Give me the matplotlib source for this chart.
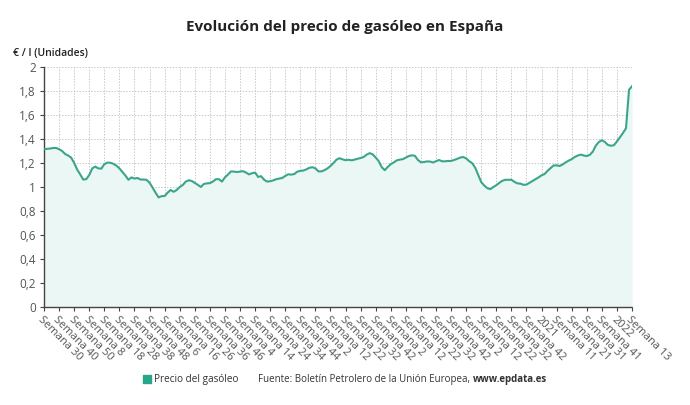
import numpy as np
import matplotlib
matplotlib.use("Agg")
import matplotlib.pyplot as plt
from matplotlib.ticker import FuncFormatter

plt.rcParams["font.family"] = ["Open Sans", "DejaVu Sans"]

# Diesel price (EUR/l), one reading every 2 weeks, week 30 of the first year to week 13 of 2022
PRICE = [
    1.315, 1.318, 1.32, 1.325, 1.325, 1.315, 1.30, 1.275, 1.262, 1.245,
    1.20, 1.145, 1.105, 1.062, 1.065, 1.10, 1.155, 1.17, 1.155, 1.153,
    1.19, 1.203, 1.202, 1.193, 1.178, 1.155, 1.125, 1.095, 1.06, 1.08,
    1.07, 1.075, 1.062, 1.062, 1.06, 1.035, 0.995, 0.952, 0.913, 0.924,
    0.924, 0.953, 0.975, 0.96, 0.975, 1.0, 1.016, 1.045, 1.056, 1.05,
    1.034, 1.018, 1.0, 1.025, 1.03, 1.032, 1.045, 1.065, 1.065, 1.045,
    1.08, 1.104, 1.13, 1.128, 1.125, 1.128, 1.132, 1.12, 1.105, 1.115,
    1.12, 1.084, 1.09, 1.06, 1.045, 1.048, 1.055, 1.065, 1.07, 1.075,
    1.092, 1.106, 1.103, 1.108, 1.128, 1.134, 1.137, 1.147, 1.16, 1.165,
    1.155, 1.13, 1.13, 1.14, 1.155, 1.175, 1.20, 1.228, 1.24, 1.23,
    1.223, 1.227, 1.222, 1.228, 1.235, 1.242, 1.25, 1.27, 1.282, 1.272,
    1.245, 1.215, 1.165, 1.14, 1.168, 1.19, 1.205, 1.222, 1.228, 1.232,
    1.245, 1.258, 1.264, 1.26, 1.225, 1.205, 1.208, 1.213, 1.212, 1.204,
    1.215, 1.225, 1.214, 1.214, 1.217, 1.217, 1.225, 1.234, 1.245, 1.25,
    1.238, 1.215, 1.198, 1.16, 1.10, 1.04, 1.012, 0.99, 0.982, 1.0,
    1.015, 1.035, 1.052, 1.06, 1.06, 1.06, 1.043, 1.03, 1.028, 1.018,
    1.02, 1.035, 1.05, 1.065, 1.08, 1.097, 1.108, 1.135, 1.158, 1.18,
    1.18, 1.175, 1.188, 1.205, 1.22, 1.232, 1.25, 1.262, 1.27, 1.262,
    1.258, 1.268, 1.295, 1.345, 1.375, 1.39, 1.375, 1.35, 1.344, 1.348,
    1.38, 1.415, 1.45, 1.49, 1.81, 1.84,
]
STEP_WEEKS = 2

# one label every 10 weeks
WEEK_LABELS = [
    "Semana 30", "Semana 40", "Semana 50", "Semana 8", "Semana 18",
    "Semana 28", "Semana 38", "Semana 48", "Semana 6", "Semana 16",
    "Semana 26", "Semana 36", "Semana 46", "Semana 4", "Semana 14",
    "Semana 24", "Semana 34", "Semana 44", "Semana 2", "Semana 12",
    "Semana 22", "Semana 32", "Semana 42", "Semana 2", "Semana 12",
    "Semana 22", "Semana 32", "Semana 42", "Semana 2", "Semana 12",
    "Semana 22", "Semana 32", "Semana 42", "2021", "Semana 11",
    "Semana 21", "Semana 31", "Semana 41", "2022", "Semana 13",
]
LABEL_EVERY = 10

LINE = "#3aa58c"
FILL = "#ebf7f4"

weeks = np.arange(len(PRICE)) * STEP_WEEKS
tick_pos = np.arange(len(WEEK_LABELS)) * LABEL_EVERY

fig = plt.figure(figsize=(6.9, 4.05), dpi=100)
ax = fig.add_axes([0.0638, 0.242, 0.8522, 0.5926])

ax.fill_between(weeks, PRICE, 0, color=FILL, lw=0, zorder=1)
ax.plot(weeks, PRICE, color=LINE, lw=1.5, zorder=3)

ax.set_xlim(0, weeks[-1])
ax.set_ylim(0, 2)
ax.set_yticks(np.arange(0, 2.01, 0.2))
ax.yaxis.set_major_formatter(FuncFormatter(lambda v, p: f"{v:.1f}".rstrip("0").rstrip(".").replace(".", ",")))
ax.set_xticks(tick_pos)
ax.set_xticklabels(WEEK_LABELS, rotation=-45, ha="left", va="top", rotation_mode="anchor")

ax.grid(True, color="#c8c8c8", ls=(0, (1.5, 1.5)), lw=0.7, zorder=0)
ax.set_axisbelow(True)
for side in ["top", "right"]:
    ax.spines[side].set_visible(False)
for side in ["left", "bottom"]:
    ax.spines[side].set_color("#444444")
    ax.spines[side].set_linestyle((0, (1, 1)))
    ax.spines[side].set_linewidth(1.0)
ax.tick_params(axis="y", length=3, width=0.8, color="#444444", labelsize=8.5, labelcolor="#555555", pad=3)
ax.tick_params(axis="x", length=3, width=0.8, color="#444444", labelsize=8, labelcolor="#555555", pad=2)

fig.text(0.5, 0.933, "Evolución del precio de gasóleo en España", ha="center", va="center",
         fontsize=11, fontweight="bold", color="#222222")
fig.text(0.019, 0.869, "€ / l (Unidades)", ha="left", va="center", fontsize=7.5,
         fontweight="semibold", color="#222222")

# legend / source line
fig.patches.append(plt.Rectangle((0.2075, 0.055), 0.0115, 0.0195, transform=fig.transFigure,
                                 color="#26a68a", figure=fig))
fig.text(0.2225, 0.064, "Precio del gasóleo", ha="left", va="center", fontsize=7.2, color="#333333")
src = fig.text(0.374, 0.064, "Fuente: Boletín Petrolero de la Unión Europea,", ha="left", va="center",
               fontsize=7.0, color="#333333")
fig.canvas.draw()
ax.annotate("www.epdata.es", xy=(1, 0.5), xycoords=src, xytext=(2, 0), textcoords="offset points",
            ha="left", va="center", fontsize=7.0, fontweight="bold", color="#333333",
            annotation_clip=False)

fig.savefig("out.png", dpi=100, facecolor="white")
